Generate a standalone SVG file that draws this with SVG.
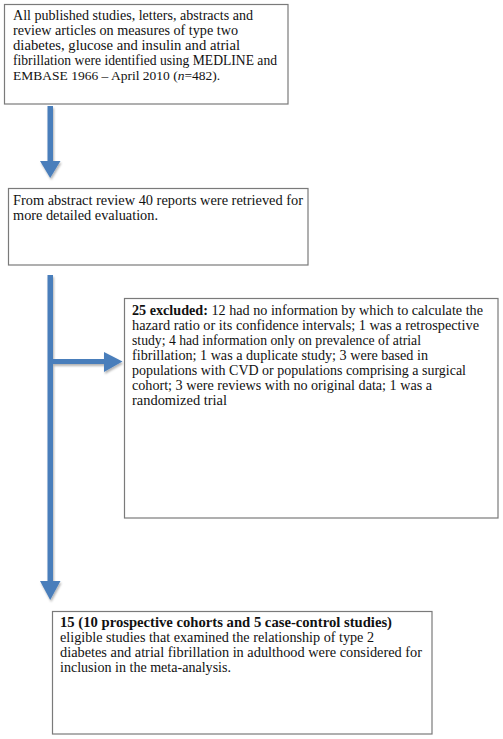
<svg xmlns="http://www.w3.org/2000/svg" width="503" height="739" viewBox="0 0 503 739">
<defs>
<filter id="sh" x="-50%" y="-50%" width="200%" height="200%">
<feGaussianBlur in="SourceAlpha" stdDeviation="1.2"/>
<feOffset dx="1" dy="2" result="b"/>
<feFlood flood-color="#000" flood-opacity="0.3"/>
<feComposite in2="b" operator="in"/>
<feMerge><feMergeNode/><feMergeNode in="SourceGraphic"/></feMerge>
</filter>
</defs>
<style>
.box{fill:#fff;stroke:#7a7a7a;stroke-width:1.2}
.t{font-family:"Liberation Serif","DejaVu Serif",serif;font-size:14.5px;fill:#111}
.b{font-weight:bold}
.arr{fill:#4a7ebb}
</style>
<rect width="503" height="739" fill="#fff"/>
<g id="connectors" filter="url(#sh)">
<rect class="arr" x="47.5" y="106" width="5.5" height="57"/>
<polygon class="arr" points="40,161 60.5,161 50.2,178"/>
<rect class="arr" x="47.5" y="275" width="5.5" height="308"/>
<polygon class="arr" points="40,581 60.5,581 50.2,600"/>
<rect class="arr" x="50" y="359" width="56" height="5"/>
<polygon class="arr" points="104,352 104,372 122.5,361.5"/>
</g>
<g id="node1">
<rect class="box" x="4.5" y="4.5" width="283.5" height="99.5"/>
<text class="t"><tspan x="13" y="19.5" textLength="240" lengthAdjust="spacingAndGlyphs">All published studies, letters, abstracts and</tspan><tspan x="13" y="34.5" textLength="225" lengthAdjust="spacingAndGlyphs">review articles on measures of type two</tspan><tspan x="13" y="49.5" textLength="227" lengthAdjust="spacingAndGlyphs">diabetes, glucose and insulin and atrial</tspan><tspan x="13" y="64.5" textLength="264" lengthAdjust="spacingAndGlyphs">fibrillation were identified using MEDLINE and</tspan></text>
<text class="t" x="13" y="79.5" style="font-size:13.5px">EMBASE 1966 – April 2010 (<tspan font-style="italic">n</tspan>=482).</text>
</g>
<g id="node2">
<rect class="box" x="8.5" y="188.5" width="299.5" height="76.5"/>
<text class="t"><tspan x="13" y="204.5" textLength="290" lengthAdjust="spacingAndGlyphs">From abstract review 40 reports were retrieved for</tspan><tspan x="13" y="219.5" textLength="145" lengthAdjust="spacingAndGlyphs">more detailed evaluation.</tspan></text>
</g>
<g id="node3">
<rect class="box" x="124.5" y="298.5" width="373.5" height="219.5"/>
<text class="t"><tspan x="132" y="314.5" textLength="351" lengthAdjust="spacingAndGlyphs"><tspan class="b">25 excluded:</tspan> 12 had no information by which to calculate the</tspan><tspan x="132" y="329.5" textLength="347" lengthAdjust="spacingAndGlyphs">hazard ratio or its confidence intervals; 1 was a retrospective</tspan><tspan x="132" y="344.5" textLength="289" lengthAdjust="spacingAndGlyphs">study; 4 had information only on prevalence of atrial</tspan><tspan x="132" y="359.5" textLength="296" lengthAdjust="spacingAndGlyphs">fibrillation; 1 was a duplicate study; 3 were based in</tspan><tspan x="132" y="374.5" textLength="334" lengthAdjust="spacingAndGlyphs">populations with CVD or populations comprising a surgical</tspan><tspan x="132" y="389.5" textLength="300" lengthAdjust="spacingAndGlyphs">cohort; 3 were reviews with no original data; 1 was a</tspan><tspan x="132" y="404.5" textLength="95" lengthAdjust="spacingAndGlyphs">randomized trial</tspan></text>
</g>
<g id="node4">
<rect class="box" x="52.5" y="611.5" width="379.5" height="122.5"/>
<text class="t"><tspan x="60" y="626.5" textLength="332" lengthAdjust="spacingAndGlyphs" class="b">15 (10 prospective cohorts and 5 case-control studies)</tspan><tspan x="60" y="641.5" textLength="314" lengthAdjust="spacingAndGlyphs">eligible studies that examined the relationship of type 2</tspan><tspan x="60" y="656.5" textLength="362" lengthAdjust="spacingAndGlyphs">diabetes and atrial fibrillation in adulthood were considered for</tspan><tspan x="60" y="671.5" textLength="171" lengthAdjust="spacingAndGlyphs">inclusion in the meta-analysis.</tspan></text>
</g>
</svg>
